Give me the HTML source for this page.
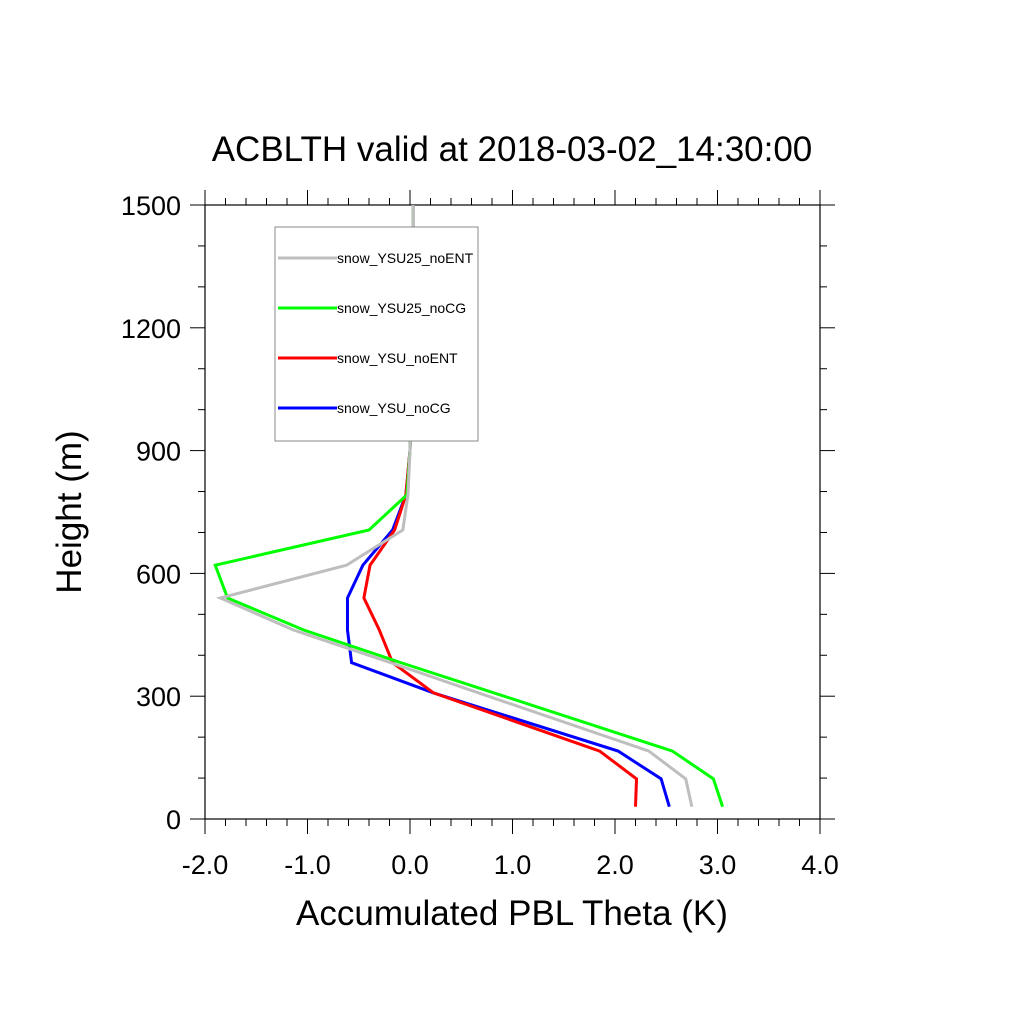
<!DOCTYPE html>
<html><head><meta charset="utf-8"><style>body{margin:0;background:#fff}svg{display:block}</style></head>
<body>
<svg id="chart" width="1024" height="1024" xmlns="http://www.w3.org/2000/svg" font-family="Liberation Sans, sans-serif">
<text x="512" y="161" font-size="35" text-anchor="middle">ACBLTH valid at 2018-03-02_14:30:00</text>
<text x="512" y="925" font-size="35" text-anchor="middle">Accumulated PBL Theta (K)</text>
<text x="0" y="0" font-size="35" text-anchor="middle" transform="translate(81,512) rotate(-90)">Height (m)</text>
<g id="axes"></g>
<g id="series"></g>
<g>
<rect x="275" y="227" width="203" height="214" fill="#fff" stroke="#888" stroke-width="1"/>
<g id="legend-items"></g>
</g>
</svg>
<script>
const heights=[30,98,166,308,382,462,540,620,706,792,900,1000,1100,1200,1300,1400,1500];
const seriesNames=["snow_YSU25_noENT","snow_YSU25_noCG","snow_YSU_noENT","snow_YSU_noCG"];
const seriesColors=["#bebebe","#00ff00","#ff0000","#0000ff"];
const grayVals=[2.75,2.69,2.33,0.67,-0.19,-1.14,-1.85,-0.62,-0.07,-0.02,0.0,0.01,0.01,0.02,0.02,0.03,0.03];
const greenVals=[3.05,2.96,2.56,0.82,-0.09,-1.04,-1.78,-1.90,-0.40,-0.03,0.0,0.01,0.01,0.02,0.02,0.03,0.03];
const redVals=[2.20,2.21,1.85,0.23,-0.17,-0.30,-0.45,-0.39,-0.15,-0.04,0.0,0.01,0.01,0.02,0.02,0.03,0.03];
const blueVals=[2.53,2.45,2.03,0.23,-0.57,-0.61,-0.61,-0.46,-0.17,-0.04,0.0,0.01,0.01,0.02,0.02,0.03,0.03];
const xTicks=[-2,-1,0,1,2,3,4];
const xTickLabels=["-2.0","-1.0","0.0","1.0","2.0","3.0","4.0"];
const yTicks=[0,300,600,900,1200,1500];
const yTickLabels=["0","300","600","900","1200","1500"];
const L=205,R=820,T=205,B=819;
const xs=v=>L+(v+2)/6*(R-L);
const ys=v=>B-v/1500*(B-T);
const NS="http://www.w3.org/2000/svg";
function mk(tag,attrs,parent){const e=document.createElementNS(NS,tag);for(const k in attrs)e.setAttribute(k,attrs[k]);parent.appendChild(e);return e;}
const ax=document.getElementById('axes');
const frame=mk('rect',{x:L,y:T,width:R-L,height:B-T,fill:'none',stroke:'#000','stroke-width':1.2},ax);


for(let v=-2;v<=4.001;v+=0.2){const x=xs(v);const major=Math.abs(v-Math.round(v))<1e-6;const len=major?15:7;
mk('line',{x1:x,y1:B,x2:x,y2:B+len,stroke:'#000','stroke-width':1},ax);
mk('line',{x1:x,y1:T,x2:x,y2:T-len,stroke:'#000','stroke-width':1},ax);}
for(let v=0;v<=1500;v+=100){const y=ys(v);const len=v%300===0?15:7;
mk('line',{x1:L,y1:y,x2:L-len,y2:y,stroke:'#000','stroke-width':1},ax);
mk('line',{x1:R,y1:y,x2:R+len,y2:y,stroke:'#000','stroke-width':1},ax);}
xTicks.forEach((v,i)=>{const t=mk('text',{x:xs(v),y:874,'font-size':27,'text-anchor':'middle'},ax);t.textContent=xTickLabels[i];

});
yTicks.forEach((v,i)=>{const t=mk('text',{x:181,y:ys(v)+10,'font-size':27,'text-anchor':'end'},ax);t.textContent=yTickLabels[i];

});
const sg=document.getElementById('series');
const allVals=[grayVals,greenVals,redVals,blueVals];
[3,2,1,0].forEach(i=>{const vals=allVals[i];const pts=vals.map((v,j)=>xs(v)+','+ys(heights[j])).join(' ');
const p=mk('polyline',{points:pts,fill:'none',stroke:seriesColors[i],'stroke-width':3,'stroke-linejoin':'miter'},sg);

});
const lg=document.getElementById('legend-items');
seriesNames.forEach((n,i)=>{const y=258+i*50;
const g=mk('g',{},lg);


mk('line',{x1:278,y1:y,x2:337,y2:y,stroke:seriesColors[i],'stroke-width':3},g);
const t=mk('text',{x:337,y:y+5,'font-size':14},g);t.textContent=n;});
</script>
</body></html>
